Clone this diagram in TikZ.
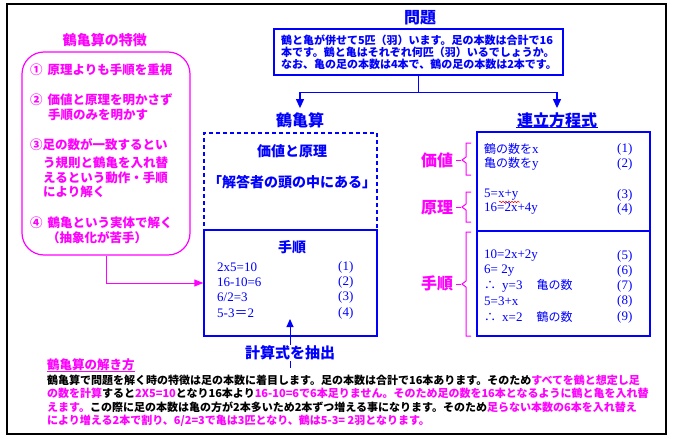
\documentclass[tikz,border=0pt]{standalone}
\usepackage{fontspec}
\setmainfont{Liberation Serif}
\newfontfamily\jp{Noto Sans CJK JP}
\usetikzlibrary{arrows.meta,decorations.pathmorphing}
\definecolor{myblue}{RGB}{0,0,255}
\definecolor{mymag}{RGB}{255,0,255}
\newcommand\setfs[1]{\fontsize{#1}{#1}\selectfont}
\newcommand\mybrace[3]{%
  \draw[bracestyle] (471,#1) -- (466,#1) -- (466,#2-3) -- (462,#2) -- (466,#2+3) -- (466,#3) -- (471,#3);
  \draw[bracestyle] (456,#2) -- (461,#2);}
\tikzset{
  ttl/.style={font=\jp\bfseries\setfs{16}, text=myblue, inner sep=1pt},
  lab/.style={font=\jp\bfseries\setfs{16}, text=mymag, inner sep=1pt},
  item/.style={anchor=west, inner sep=0pt, font=\jp\bfseries\setfs{12.5}, text=mymag},
  eqn/.style={anchor=west, inner sep=0pt, font=\setfs{13}, text=myblue},
  para/.style={anchor=west, inner sep=0pt, font=\jp\bfseries\setfs{11}, text=black},
  bluebox/.style={draw=myblue, line width=1.4pt, inner sep=0pt},
  bluearr/.style={draw=myblue, line width=1.2pt, -{Triangle[width=8pt,length=9pt]}},
  magarr/.style={draw=mymag, line width=1pt, -{Triangle[width=7pt,length=9pt]}},
  bracestyle/.style={draw=mymag, line width=1pt},
}
\newcommand\jj[1]{{\jp\setfs{12}#1}}
\begin{document}
\begin{tikzpicture}[x=1pt,y=-1pt]
\useasboundingbox (0,0) rectangle (673,442);
\fill[white] (0,0) rectangle (673,442);
\draw[line width=1.5pt] (7,4) rectangle (666,434);

% problem
\node[ttl] (ptitle) at (420,18) {問題};
\node[bluebox, text=myblue, font=\jp\bfseries\fontsize{11}{12}\selectfont, text width=275pt,
      inner xsep=7pt, inner ysep=0pt, minimum height=46pt, align=left] (pbox) at (418.5,52)
  {鶴と亀が併せて5匹（羽）います。足の本数は合計で16\\本です。鶴と亀はそれぞれ何匹（羽）いるでしょうか。\\なお、亀の足の本数は4本で、鶴の足の本数は2本です。};

\node[ttl, inner ysep=4pt] (kt) at (300,120) {鶴亀算};
\node[ttl, inner ysep=4pt] (rt) at (557,120) {連立方程式};
\draw[myblue, line width=0.8pt] ([yshift=-1.5pt]rt.base west) -- ([yshift=-1.5pt]rt.base east);
\coordinate (pj) at ([yshift=-17pt]pbox.south);
\draw[bluearr] (pbox.south) -- (pj) -| (kt.north);
\draw[bluearr] (pj) -| (rt.north);

% left feature box
\node[lab, font=\jp\bfseries\setfs{14}] (lt) at (105,40) {鶴亀算の特徴};
\node[draw=mymag, line width=1.2pt, rounded corners=22pt, minimum width=168pt, minimum height=203pt, inner sep=0pt] (lbox) at (106,153.5) {};
\node[item] (i1) at (30,70) {①\hspace{5pt}原理よりも手順を重視};
\node[item] (i2) at (30,100) {②\hspace{5pt}価値と原理を明かさず};
\node[item] (i2b) at (48,115) {手順のみを明かす};
\node[item] (i3) at (30,145) {③足の数が一致するとい};
\node[item] (i3b) at (43,163) {う規則と鶴亀を入れ替};
\node[item] (i3c) at (43,178) {えるという動作・手順};
\node[item] (i3d) at (43,192) {により解く};
\node[item] (i4) at (30,223) {④\hspace{5pt}鶴亀という実体で解く};
\node[item] (i4b) at (47,238) {（抽象化が苦手）};

% tsurukame box
\node[bluebox, dash pattern=on 4pt off 3pt, minimum width=173pt, minimum height=97pt] (kval) at (290.5,181.5) {};
\node[bluebox, minimum width=173pt, minimum height=106pt] (kproc) at (290.5,283) {};
\node[font=\jp\bfseries\setfs{14}, text=myblue, inner sep=0pt] (kv1) at (292,151) {価値と原理};
\node[font=\jp\bfseries\setfs{14}, text=myblue, inner sep=0pt] (kv2) at (292,182) {「解答者の頭の中にある」};
\node[font=\jp\bfseries\setfs{14}, text=myblue, inner sep=0pt] (kp) at (292,247) {手順};
\node[eqn] (k1) at (217,267) {2x5=10};
\node[eqn] (k2) at (217,282) {16-10=6};
\node[eqn] (k3) at (217,297) {6/2=3};
\node[eqn] (k4) at (217,313) {5-3{\jp ＝}2};
\node[eqn] (m1) at (338,267) {(1)};
\node[eqn] (m2) at (338,282) {(2)};
\node[eqn] (m3) at (338,297) {(3)};
\node[eqn] (m4) at (338,313) {(4)};

\draw[magarr] (lbox.south) |- (kproc.west);

\node[font=\jp\bfseries\setfs{15}, text=myblue, fill=white, inner sep=1pt] (ex) at (290,353) {計算式を抽出};
\coordinate (extip) at (290,319);
\coordinate (exbot) at (290,368);
\draw[myblue, line width=1pt, -{Triangle[width=7pt,length=8pt]}] (ex.north) -- (extip);
\draw[myblue, line width=1pt] (ex.south) -- (exbot);

% right box
\node[bluebox, minimum width=173pt, minimum height=99pt] (rv) at (563.5,181.5) {};
\node[bluebox, minimum width=173pt, minimum height=105pt] (rp) at (563.5,283.5) {};
\node[eqn] (e1) at (484,149) {\jj{鶴の数を}x};
\node[eqn] (e2) at (484,164) {\jj{亀の数を}y};
\node[eqn] (e3) at (484,195) {5=x+y};
\draw[red, line width=0.5pt, decorate, decoration={snake, amplitude=0.8pt, segment length=3pt}] (499,202) -- (520,202);
\node[eqn] (e4) at (484,209) {16=2x+4y};
\node[eqn] (e5) at (484,256) {10=2x+2y};
\node[eqn] (e6) at (484,271) {6= 2y};
\node[eqn] (e7) at (484,286) {\jj{∴}\hspace{6pt}y=3\hspace{14pt}\jj{亀の数}};
\node[eqn] (e8) at (484,301) {5=3+x};
\node[eqn] (e9) at (484,317) {\jj{∴}\hspace{6pt}x=2\hspace{14pt}\jj{鶴の数}};
\node[eqn] (n1) at (617,149) {(1)};
\node[eqn] (n2) at (617,164) {(2)};
\node[eqn] (n3) at (617,195) {(3)};
\node[eqn] (n4) at (617,209) {(4)};
\node[eqn] (n5) at (617,256) {(5)};
\node[eqn] (n6) at (617,271) {(6)};
\node[eqn] (n7) at (617,286) {(7)};
\node[eqn] (n8) at (617,301) {(8)};
\node[eqn] (n9) at (617,317) {(9)};

\node[lab] (lv) at (437,160) {価値};
\node[lab] (lg) at (437,208) {原理};
\node[lab] (lp) at (437,283) {手順};
\mybrace{143}{160}{175}
\mybrace{192}{207}{222}
\mybrace{232}{284}{336}

% bottom explanation
\node[para, font=\jp\bfseries\setfs{12.5}, text=mymag] (bt) at (47,365) {鶴亀算の解き方};
\draw[mymag, line width=0.8pt] ([yshift=-1.5pt]bt.base west) -- ([yshift=-1.5pt]bt.base east);
\node[para] (b1) at (47,380) {鶴亀算で問題を解く時の特徴は足の本数に着目します。足の本数は合計で16本あります。そのため\textcolor{mymag}{すべてを鶴と想定し足}};
\node[para] (b2) at (47,393.5) {\textcolor{mymag}{の数を計算}すると\textcolor{mymag}{2X5=10}となり16本より\textcolor{mymag}{16-10=6で6本足りません。そのため足の数を16本となるように鶴と亀を入れ替}};
\node[para] (b3) at (47,407) {\textcolor{mymag}{えます。}この際に足の本数は亀の方が2本多いため2本ずつ増える事になります。そのため\textcolor{mymag}{足らない本数の6本を入れ替え}};
\node[para, text=mymag] (b4) at (47,420.5) {により増える2本で割り、6/2=3で亀は3匹となり、鶴は5-3= 2羽となります。};
\end{tikzpicture}
\end{document}
